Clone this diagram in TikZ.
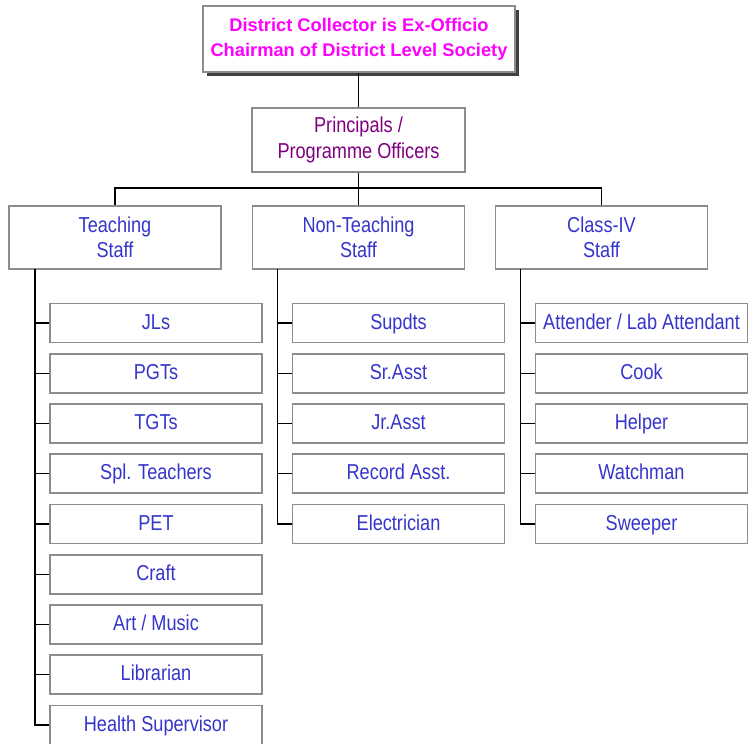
\documentclass[tikz,border=0pt]{standalone}
\usepackage{fontspec}
\setmainfont{Liberation Sans}
\newfontfamily\narrowfont{Liberation Sans}[FakeStretch=0.84]
\usetikzlibrary{shadows}
\definecolor{boxgray}{HTML}{8C8C8C}
\definecolor{txtblue}{HTML}{3535CC}
\definecolor{txtpurple}{HTML}{800080}
\definecolor{txtmagenta}{HTML}{FF00FF}
\tikzset{
  box/.style={draw=boxgray, line width=1.6pt, fill=white, rectangle, inner sep=0pt,
    align=center, font=\narrowfont\fontsize{21.6}{25.5}\selectfont},
  topbox/.style={box, minimum width=312pt, minimum height=66pt, text=txtmagenta,
    font=\fontsize{18.3}{25}\selectfont\bfseries,
    drop shadow={shadow xshift=4pt, shadow yshift=-4pt, fill=black!75, opacity=1}},
  midbox/.style={box, minimum width=213pt, minimum height=64pt, text=txtpurple},
  headbox/.style={box, minimum width=212pt, minimum height=63pt, text=txtblue},
  leafbox/.style={box, minimum width=212pt, minimum height=39pt, text=txtblue,
    text height=16pt, text depth=4pt},
  conn/.style={draw=black, line width=1.4pt},
}
\begin{document}
\begin{tikzpicture}[x=1pt,y=-1pt]
\useasboundingbox (0,0) rectangle (751,743);
\begin{scope}
\clip (0,0) rectangle (751,743);
% top
\node[topbox] (top) at (359,39) {District Collector is Ex-Officio\\Chairman of District Level Society};
\node[midbox] (pr) at (358.5,140) {Principals /\\Programme Officers};
\node[headbox] (ts) at (115,237.5) {Teaching\\Staff};
\node[headbox] (ns) at (358.5,237.5) {Non-Teaching\\Staff};
\node[headbox] (cs) at (601.5,237.5) {Class-IV\\Staff};
\coordinate (bus) at (358.5,188);
\draw[conn] (top.south -| pr.north) -- (pr.north);
\draw[conn] (pr.south) -- (bus);
\draw[conn] (bus) -- (ns.north);
\draw[conn] (bus) -| (ts.north);
\draw[conn] (bus) -| (cs.north);
% teaching leaves
\foreach \t [count=\i] in {JLs,PGTs,TGTs,Spl. Teachers,PET,Craft,Art / Music,Librarian,Health Supervisor}{
  \node[leafbox] (t\i) at (156,{323+(\i-1)*50.25}) {\t};
}
\foreach \t [count=\i] in {Supdts,Sr.Asst,Jr.Asst,Record Asst.,Electrician}{
  \node[leafbox] (n\i) at (398.5,{323+(\i-1)*50.25}) {\t};
}
\foreach \t [count=\i] in {Attender / Lab Attendant,Cook,Helper,Watchman,Sweeper}{
  \node[leafbox] (c\i) at (641.5,{323+(\i-1)*50.25}) {\t};
}
\coordinate (tstem) at (35,269);
\coordinate (nstem) at (277.5,269);
\coordinate (cstem) at (520.5,269);
\draw[conn] (tstem) |- (t9.west);
\draw[conn] (nstem) |- (n5.west);
\draw[conn] (cstem) |- (c5.west);
\foreach \i in {1,...,8}{ \draw[conn] (tstem |- t\i.west) -- (t\i.west); }
\foreach \i in {1,...,4}{ \draw[conn] (nstem |- n\i.west) -- (n\i.west); }
\foreach \i in {1,...,4}{ \draw[conn] (cstem |- c\i.west) -- (c\i.west); }
\end{scope}
\end{tikzpicture}
\end{document}
